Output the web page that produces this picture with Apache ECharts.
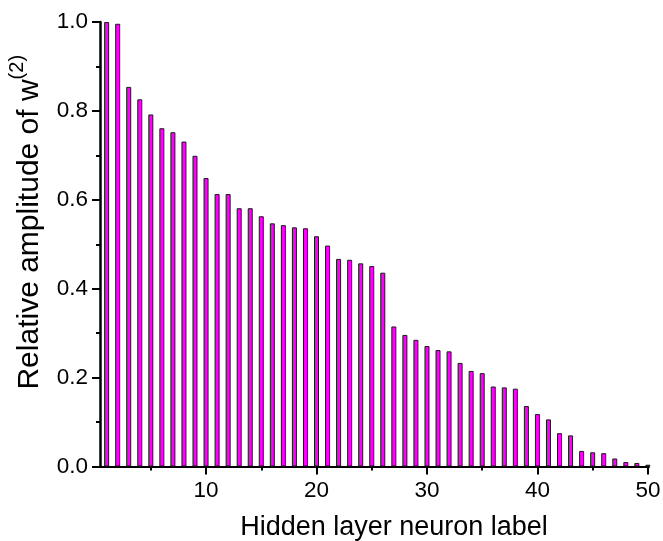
<!DOCTYPE html>
<html>
<head>
<meta charset="utf-8">
<script src="https://cdn.jsdelivr.net/npm/echarts@6/dist/echarts.min.js"></script>
<style>
  html, body { margin: 0; padding: 0; background: #fff; }
  #chart { width: 663px; height: 541px; }
</style>
</head>
<body>
<div id="chart"></div>
<script>
// Hidden-layer neuron labels (1..50) and the relative amplitude of w(2) for each
var neurons = [1, 2, 3, 4, 5, 6, 7, 8, 9, 10,
               11, 12, 13, 14, 15, 16, 17, 18, 19, 20,
               21, 22, 23, 24, 25, 26, 27, 28, 29, 30,
               31, 32, 33, 34, 35, 36, 37, 38, 39, 40,
               41, 42, 43, 44, 45, 46, 47, 48, 49, 50];
var amplitudes = [1.000, 0.996, 0.854, 0.826, 0.792, 0.761, 0.752, 0.731, 0.699, 0.649,
                  0.613, 0.613, 0.581, 0.581, 0.563, 0.547, 0.543, 0.538, 0.536, 0.518,
                  0.497, 0.467, 0.465, 0.457, 0.451, 0.436, 0.315, 0.296, 0.285, 0.271,
                  0.262, 0.259, 0.233, 0.215, 0.210, 0.180, 0.178, 0.175, 0.136, 0.118,
                  0.106, 0.075, 0.070, 0.035, 0.032, 0.030, 0.018, 0.010, 0.008, 0.004];
var xMajorTicks = [10, 20, 30, 40, 50];
var xMinorTicks = [5, 15, 25, 35, 45];

var FONT = '"Liberation Sans", Arial, sans-serif';
var pairs = neurons.map(function (n, i) { return [n, amplitudes[i]]; });

var chart = echarts.init(document.getElementById('chart'), null, { renderer: 'canvas' });
chart.setOption({
  animation: false,
  backgroundColor: '#ffffff',
  grid: { left: 100, right: 14, top: 22, bottom: 74.5, containLabel: false, outerBoundsMode: 'none' },
  xAxis: [{
    type: 'value',
    min: 0.4,
    max: 50.1,
    name: 'Hidden layer neuron label',
    nameLocation: 'middle',
    nameGap: 48,
    nameTextStyle: { fontFamily: FONT, fontSize: 27, color: '#000', padding: [0, 0, 0, 39] },
    axisLine: { onZero: false, lineStyle: { color: '#000', width: 2 } },
    axisTick: { show: true, customValues: xMajorTicks, length: 8, lineStyle: { color: '#000', width: 2 } },
    axisLabel: { customValues: xMajorTicks, fontFamily: FONT, fontSize: 22.5, color: '#000', margin: 13 },
    splitLine: { show: false }
  }, {
    type: 'value',
    min: 0.4,
    max: 50.1,
    position: 'bottom',
    axisLine: { show: false },
    axisTick: { show: true, customValues: xMinorTicks, length: 4, lineStyle: { color: '#000', width: 2 } },
    axisLabel: { show: false },
    splitLine: { show: false }
  }],
  yAxis: {
    type: 'value',
    min: 0,
    max: 1,
    interval: 0.2,
    name: '{n|Relative amplitude of w}{s|(2)}',
    nameLocation: 'middle',
    nameGap: 55,
    nameTextStyle: {
      fontFamily: FONT, color: '#000', padding: [0, 0, 0, 44],
      rich: {
        n: { fontFamily: FONT, fontSize: 30, color: '#000', lineHeight: 38, verticalAlign: 'bottom' },
        s: { fontFamily: FONT, fontSize: 20, color: '#000', lineHeight: 38, verticalAlign: 'top' }
      }
    },
    axisLine: { show: true, onZero: false, lineStyle: { color: '#000', width: 2.5 } },
    axisTick: { show: true, length: 8, lineStyle: { color: '#000', width: 2 } },
    minorTick: { show: true, splitNumber: 2, length: 4, lineStyle: { color: '#000', width: 2 } },
    axisLabel: {
      fontFamily: FONT, fontSize: 22.5, color: '#000', margin: 12,
      formatter: function (v) { return v.toFixed(1); }
    },
    splitLine: { show: false }
  },
  series: [{
    type: 'bar',
    xAxisIndex: 0,
    data: pairs,
    barWidth: 5,
    itemStyle: { color: '#ff00ff', borderColor: '#1a1a1a', borderWidth: 1 }
  }]
});
</script>
</body>
</html>
